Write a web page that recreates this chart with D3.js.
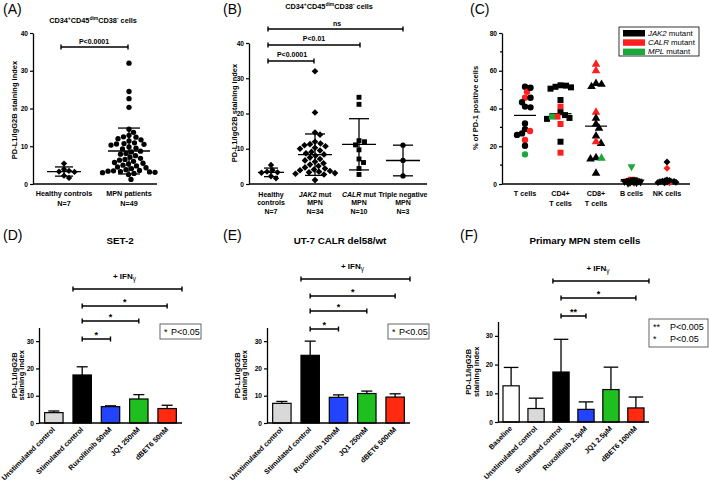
<!DOCTYPE html>
<html><head><meta charset="utf-8">
<script src="https://cdn.jsdelivr.net/npm/d3@7"></script>
<style>
body{margin:0;background:#fff;}
svg{display:block;font-family:"Liberation Sans",Arial,sans-serif;}
</style></head><body>
<svg id="c" width="709" height="488"></svg>
<script>
// ---------------- DATA ----------------
const panelLetters = ["(A)","(B)","(C)","(D)","(E)","(F)"];

// Panel A
const groupsA = ["Healthy controls","MPN patients"];
const nA = ["N=7","N=49"];
const healthyVals = [5.4,3.9,3.5,3.3,3.2,2.2,1.6];
const mpnVals = [32.0,24.5,22.6,20.3,14.5,13.7,12.9,12.5,12.4,12.0,11.7,11.4,10.9,10.7,10.6,10.5,10.3,9.8,9.5,9.3,
  8.7,8.5,8.1,7.9,7.5,7.1,6.8,6.5,6.3,6.0,5.7,5.5,5.3,5.0,4.8,4.5,4.3,4.1,3.8,3.6,3.5,3.4,3.3,3.2,3.1,3.0,2.8,2.5,1.2];
const ticksA = [0,10,20,30,40];
const sigA = "P<0.0001";

// Panel B
const groupsB = [["Healthy","controls"],["JAK2 mut","MPN"],["CALR mut","MPN"],["Triple negative","MPN"]];
const nB = ["N=7","N=34","N=10","N=3"];
const jak2Vals = [32.0,20.3,14.6,14.0,12.0,11.5,11.3,11.0,10.7,10.3,10.0,9.5,9.1,8.7,8.4,8.0,7.5,7.1,6.7,6.3,
  5.9,5.5,5.1,4.7,4.4,4.1,3.9,3.7,3.5,3.3,3.1,2.9,2.7,1.1];
const calrVals = [24.6,22.6,12.3,12.0,11.1,9.7,7.1,6.1,4.4,2.7];
const tripleVals = [11.0,6.7,2.3];
const sigB = ["ns","P<0.01","P<0.0001"];

// Panel C
const cellTypes = [["T cells"],["CD4+","T cells"],["CD8+","T cells"],["B cells"],["NK cells"]];
const mutTypes = ["JAK2","CALR","MPL"];
const ticksC = [0,20,40,60,80];
const tCellVals = [51.5,48.9,51.0,45.7,45.7,43.3,41.0,40.6,32.1,29.1,28.1,26.0,26.8,23.3,20.3,15.7];
const tCellMut  = ["J","C","J","C","J","J","J","J","J","J","C","J","J","C","J","M"];
const cd4Vals = [52.3,52.1,51.2,51.5,50.5,44.5,41.0,38.0,36.5,35.7,35.0,34.5,35.7,31.8,22.4,16.6];
const cd4Mut  = ["J","J","J","J","J","J","C","J","J","C","J","J","M","C","J","C"];
const cd8Vals = [63.4,60.0,53.3,51.6,52.8,38.0,34.8,31.8,29.5,25.4,21.5,22.4,13.9,13.2,13.6,5.7];
const cd8Mut  = ["C","C","J","J","J","C","J","J","J","J","J","C","J","J","M","J"];
const bCellVals = [9.2,2.6,1.7,2.3,2.0,1.8,1.6,1.5,1.4,1.2,1.0,0.9,0.7,0.5];
const bCellMut  = ["M","C","C","J","J","J","J","J","J","J","J","J","J","J"];
const nkVals = [11.7,8.3,1.5,0.7,2.2,1.9,1.7,1.5,1.3,1.2,1.0,0.9,0.8,0.6];
const nkMut  = ["J","C","M","C","J","J","J","J","J","J","J","J","J","J"];

// Panels D-F
const barTicks = [0,10,20,30];
const condD = ["Unstimulated control","Stimulated control","Ruxolitinib 50nM","JQ1 250nM","dBET6 50nM"];
const meanD = [3.8,17.6,6.0,8.8,5.3];
const sdD   = [0.6,3.0,0.3,1.6,1.2];
const condE = ["Unstimulated control","Stimulated control","Ruxolitinib 100nM","JQ1 250nM","dBET6 500nM"];
const meanE = [7.2,24.8,9.4,10.8,9.5];
const sdE   = [0.7,5.2,0.9,0.9,1.2];
const condF = ["Baseline","Unstimulated control","Stimulated control","Ruxolitinib 2.5µM","JQ1 2.5µM","dBET6 100nM"];
const meanF = [12.6,4.7,17.4,4.4,11.3,4.9];
const sdF   = [6.4,3.6,11.4,2.6,7.8,3.8];
const titlesDEF = ["SET-2","UT-7 CALR del58/wt","Primary MPN stem cells"];

// ---------------- HELPERS ----------------
const svg = d3.select("#c");
svg.append("rect").attr("width",709).attr("height",488).attr("fill","#fff");
const mutColor = {J:"#000000", C:"#ff1f1f", M:"#1aa83a"};
const legendColor = ["#000000","#ff1f1f","#1aa83a"];

function txt(g,x,y,s,o={}){
  return g.append("text").attr("x",x).attr("y",y).text(s)
    .attr("font-size",o.size||7).attr("font-weight",o.bold===false?"normal":"bold")
    .attr("text-anchor",o.anchor||"middle").attr("fill","#000");
}
function styleAxis(a){
  a.attr("font-family",'"Liberation Sans",Arial,sans-serif').attr("font-size",6.6).attr("font-weight","bold");
  a.select(".domain").attr("stroke-width",1.3);
  a.selectAll(".tick line").attr("stroke-width",1.2);
}
function hline(g,x1,x2,y,w=1.3){g.append("line").attr("x1",x1).attr("x2",x2).attr("y1",y).attr("y2",y).attr("stroke","#000").attr("stroke-width",w);}
function yLabel(g,lines,cx,cy,size){
  lines.forEach(([s,bx])=>{
    g.append("text").attr("transform",`translate(${bx},${cy}) rotate(-90)`).attr("text-anchor","middle")
      .attr("font-size",size).attr("font-weight","bold").text(s);
  });
}
function symPath(type,size){
  const t = type==="circle"?d3.symbolCircle: (type==="triangle"||type==="down")?d3.symbolTriangle: d3.symbolSquare;
  return d3.symbol(t,size)();
}
function swarm(vals,y,cr){
  const placed=[], out=new Array(vals.length);
  const idx=d3.range(vals.length).sort((a,b)=>vals[b]-vals[a]);
  for(const i of idx){
    const py=y(vals[i]); let off=0;
    for(let k=0;k<600;k++){
      const c = k===0?0:(k%2?1:-1)*Math.ceil(k/2)*0.5;
      if(placed.every(p=>(p.x-c)**2+(p.y-py)**2>=4*cr*cr)){off=c;break;}
    }
    placed.push({x:off,y:py}); out[i]=off;
  }
  return out;
}
function scatter(g,vals,cols,cx,y,type,size,cr){
  const offs=swarm(vals,y,cr);
  const rot = type==="diamond"?45:type==="down"?180:0;
  g.append("g").selectAll("path").data(vals).join("path")
    .attr("d",symPath(type,size))
    .attr("transform",(d,i)=>`translate(${cx+offs[i]},${y(d)}) rotate(${rot})`)
    .attr("fill",(d,i)=>cols?mutColor[cols[i]]:"#000");
}
function meanSD(g,vals,cx,y,mw,cw){
  const m=d3.mean(vals), s=d3.deviation(vals);
  hline(g,cx-mw,cx+mw,y(m));
  g.append("line").attr("x1",cx).attr("x2",cx).attr("y1",y(Math.max(0,m-s))).attr("y2",y(m+s)).attr("stroke","#000").attr("stroke-width",1.3);
  hline(g,cx-cw,cx+cw,y(m+s));
  if(m-s>0) hline(g,cx-cw,cx+cw,y(m-s));
}
function bracket(g,x1,x2,y,cap=2.6){
  g.append("path").attr("d",`M${x1},${y-cap}V${y+cap}M${x1},${y}H${x2}M${x2},${y-cap}V${y+cap}`)
    .attr("fill","none").attr("stroke","#000").attr("stroke-width",1.4);
}
function cdTitle(g,x,y){
  const t=g.append("text").attr("x",x).attr("y",y).attr("text-anchor","middle").attr("font-size",7.3).attr("font-weight","bold");
  const parts=[["CD34",0],["+",1],["CD45",0],["dim",1],["CD38",0],["-",1],[" cells",0]];
  let prev=0;
  parts.forEach(([s,sup])=>{
    const sp=t.append("tspan").text(s).attr("dy",(sup?-2.8:0)-(prev?-2.8:0));
    if(sup) sp.attr("font-size",5);
    prev=sup;
  });
}

// Panel letters
[[3,14],[223,14],[470,14],[3,240],[223,240],[460,240]].forEach(([x,y],i)=>
  txt(svg,x,y,panelLetters[i],{size:14,bold:false,anchor:"start"}));

// ---------------- PANEL A ----------------
{
  const g=svg.append("g");
  const y=d3.scaleLinear().domain([0,40]).range([184,33]);
  const x=d3.scalePoint().domain(groupsA).range([64,129]);
  cdTitle(g,93,23);
  g.append("g").attr("transform","translate(33,0)")
    .call(d3.axisLeft(y).tickValues(ticksA).tickSize(3).tickSizeOuter(0).tickPadding(2)).call(styleAxis);
  hline(g,33,157,184);
  scatter(g,healthyVals,null,x(groupsA[0]),y,"diamond",20,2.6);
  scatter(g,mpnVals,null,x(groupsA[1]),y,"circle",22,2.7);
  meanSD(g,healthyVals,x(groupsA[0]),y,17,9);
  meanSD(g,mpnVals,x(groupsA[1]),y,21,11);
  groupsA.forEach((c,i)=>{txt(g,x(c),196,c,{size:7.2}); txt(g,x(c),206,nA[i],{size:7.2});});
  bracket(g,x(groupsA[0])-3,x(groupsA[1])-1,47);
  txt(g,94,44,sigA,{size:7});
  yLabel(g,[["PD-L1/IgG2B staining index",17]],0,110,7.5);
}

// ---------------- PANEL B ----------------
{
  const g=svg.append("g");
  const y=d3.scaleLinear().domain([0,40]).range([184,43]);
  const keys=groupsB.map(d=>d[0]);
  const x=d3.scalePoint().domain(keys).range([271,403]);
  cdTitle(g,329,9);
  g.append("g").attr("transform","translate(249,0)")
    .call(d3.axisLeft(y).tickValues(ticksA).tickSize(3).tickSizeOuter(0).tickPadding(2)).call(styleAxis);
  hline(g,249,427,184);
  const sets=[healthyVals,jak2Vals,calrVals,tripleVals];
  const types=["diamond","diamond","square","circle"];
  const sizes=[20,22,24,22];
  sets.forEach((v,i)=>scatter(g,v,null,x(keys[i]),y,types[i],sizes[i],2.7));
  sets.forEach((v,i)=>meanSD(g,v,x(keys[i]),y,i===0?13:17,i===0?7:10));
  groupsB.forEach((c,i)=>{
    const cx=x(keys[i]);
    const t=g.append("text").attr("x",cx).attr("y",197).attr("text-anchor","middle").attr("font-size",7).attr("font-weight","bold");
    if(c[0].includes(" mut")){t.append("tspan").attr("font-style","italic").text(c[0].split(" ")[0]); t.append("tspan").text(" mut");}
    else t.text(c[0]);
    txt(g,cx,205,c[1],{size:7});
    txt(g,cx,213.5,nB[i],{size:7});
  });
  bracket(g,x(keys[0])-3,x(keys[3]),29); txt(g,337,25.5,sigB[0],{size:7});
  bracket(g,x(keys[0])-3,x(keys[2])+1,45); txt(g,314,41,sigB[1],{size:7});
  bracket(g,x(keys[0])-3,x(keys[1])-1,61); txt(g,292,57,sigB[2],{size:7});
  yLabel(g,[["PD-L1/IgG2B staining index",236.5]],0,113,7.5);
}

// ---------------- PANEL C ----------------
{
  const g=svg.append("g");
  const y=d3.scaleLinear().domain([0,80]).range([184,33]);
  const keys=cellTypes.map(d=>d.join(" "));
  const x=d3.scalePoint().domain(keys).range([525,667]);
  g.append("g").attr("transform","translate(502,0)")
    .call(d3.axisLeft(y).tickValues(ticksC).tickSize(3).tickSizeOuter(0).tickPadding(2)).call(styleAxis);
  [10,30,50,70].forEach(v=>hline(g,500,502,y(v),1.2));
  hline(g,502,690,184);
  const sets=[[tCellVals,tCellMut,"circle",32,2.6],[cd4Vals,cd4Mut,"square",36,2.6],[cd8Vals,cd8Mut,"triangle",32,2.6],
              [bCellVals,bCellMut,"down",28,1.05],[nkVals,nkMut,"diamond",24,1.05]];
  sets.forEach(([v,m,t,s,cr],i)=>{
    const cx=x(keys[i]), md=d3.median(v);
    hline(g,cx-11,cx+11,y(md),1.2);
    scatter(g,v,m,cx,y,t,s,cr);
  });
  cellTypes.forEach((c,i)=>{ c.forEach((s,j)=>txt(g,x(keys[i]),196+j*10,s,{size:7.2})); });
  yLabel(g,[["% of PD-1 positive cells",478]],0,108,7.5);
  const lg=g.append("g");
  lg.append("rect").attr("x",619).attr("y",27).attr("width",80).attr("height",29).attr("fill","#fff").attr("stroke","#000").attr("stroke-width",0.8);
  mutTypes.forEach((m,i)=>{
    lg.append("rect").attr("x",623).attr("y",30+i*9.3).attr("width",22).attr("height",6.5).attr("fill",legendColor[i]);
    const t=lg.append("text").attr("x",648).attr("y",35.8+i*9.3).attr("font-size",7.8);
    t.append("tspan").attr("font-style","italic").text(m);
    t.append("tspan").text(" mutant");
  });
}

// ---------------- PANELS D-F ----------------
function barPanel(o){
  const g=svg.append("g");
  const y=d3.scaleLinear().domain([0,35]).range([o.y0,o.yTop]);
  const x=d3.scaleBand().domain(o.conds).range([o.x0,o.x1]).paddingInner(0.35).paddingOuter(0.2);
  g.append("g").attr("transform",`translate(${o.x0},0)`)
    .call(d3.axisLeft(y).tickValues(barTicks).tickSize(3).tickSizeOuter(0).tickPadding(2)).call(styleAxis);
  const bw=x.bandwidth();
  o.conds.forEach((c,i)=>{
    const cx=x(c)+bw/2, m=o.means[i], e=m+o.sds[i], cw=bw*o.capFrac;
    g.append("line").attr("x1",cx).attr("x2",cx).attr("y1",y(m)).attr("y2",y(e)).attr("stroke","#000").attr("stroke-width",1.3);
    hline(g,cx-cw,cx+cw,y(e),1.3);
    g.append("rect").attr("x",x(c)).attr("y",y(m)).attr("width",bw).attr("height",y(0)-y(m))
      .attr("fill",o.colors[i]).attr("stroke","#000").attr("stroke-width",1.2);
    g.append("text").attr("transform",`translate(${cx+1.5},${o.y0+7}) rotate(-45)`).attr("text-anchor","end")
      .attr("font-size",7.2).attr("font-weight","bold").text(c);
  });
  hline(g,o.x0,o.x1,o.y0);
  const cen=c=>x(c)+bw/2;
  const stim=o.conds[o.stimIdx];
  bracket(g,x(stim),o.x1,o.top.y);
  o.sig.forEach(s=>{
    bracket(g,cen(stim),cen(o.conds[s.to]),s.y);
    txt(g,(cen(stim)+cen(o.conds[s.to]))/2,s.y-1,s.t,{size:9});
  });
  const ifx=(x(stim)+o.x1)/2-3;
  const it=g.append("text").attr("x",ifx).attr("y",o.top.y-10).attr("text-anchor","middle").attr("font-size",8).attr("font-weight","bold");
  it.append("tspan").text("+ IFN");
  it.append("tspan").attr("font-size",6.5).attr("dy",1.5).attr("font-weight","normal").text("γ");
  txt(g,o.titleX,244,o.title,{size:9.8});
  yLabel(g,[["PD-L1/IgG2B",o.labX],["staining index",o.labX+7.5]],0,(o.y0+o.yTop)/2,7.5);
  const b=o.box;
  g.append("rect").attr("x",b.x).attr("y",b.y).attr("width",b.w).attr("height",b.h).attr("fill","#fff").attr("stroke","#555").attr("stroke-width",0.9);
  b.lines.forEach((l,i)=>{
    txt(g,b.x+4,b.y+11+i*12,l[0],{size:9,bold:false,anchor:"start"});
    txt(g,b.x+b.tx,b.y+11+i*12,l[1],{size:9,bold:false,anchor:"start"});
  });
}
const colors5=["#d9d9d9","#000000","#2244ff","#1fbf1f","#ff2a10"];
barPanel({conds:condD,means:meanD,sds:sdD,colors:colors5,x0:39,x1:182,y0:423,yTop:327.5,capFrac:0.3,stimIdx:1,
  top:{y:289},sig:[{to:4,y:306,t:"*"},{to:3,y:321,t:"*"},{to:2,y:339,t:"*"}],
  title:titlesDEF[0],titleX:120,labX:16.5,
  box:{x:160,y:324,w:41,h:15,tx:11,lines:[["*","P<0.05"]]}});
barPanel({conds:condE,means:meanE,sds:sdE,colors:colors5,x0:267,x1:410,y0:423,yTop:327.5,capFrac:0.3,stimIdx:1,
  top:{y:279},sig:[{to:4,y:296,t:"*"},{to:3,y:311,t:"*"},{to:2,y:329,t:"*"}],
  title:titlesDEF[1],titleX:340,labX:239.5,
  box:{x:388,y:324,w:41,h:15,tx:11,lines:[["*","P<0.05"]]}});
barPanel({conds:condF,means:meanF,sds:sdF,colors:["#ffffff"].concat(colors5),x0:498,x1:649,y0:422,yTop:321.5,capFrac:0.45,stimIdx:2,
  top:{y:281},sig:[{to:5,y:298,t:"*"},{to:3,y:316,t:"**"}],
  title:titlesDEF[2],titleX:585,labX:471,
  box:{x:649,y:319,w:59,h:28,tx:21,lines:[["**","P<0.005"],["*","P<0.05"]]}});
</script></body></html>
